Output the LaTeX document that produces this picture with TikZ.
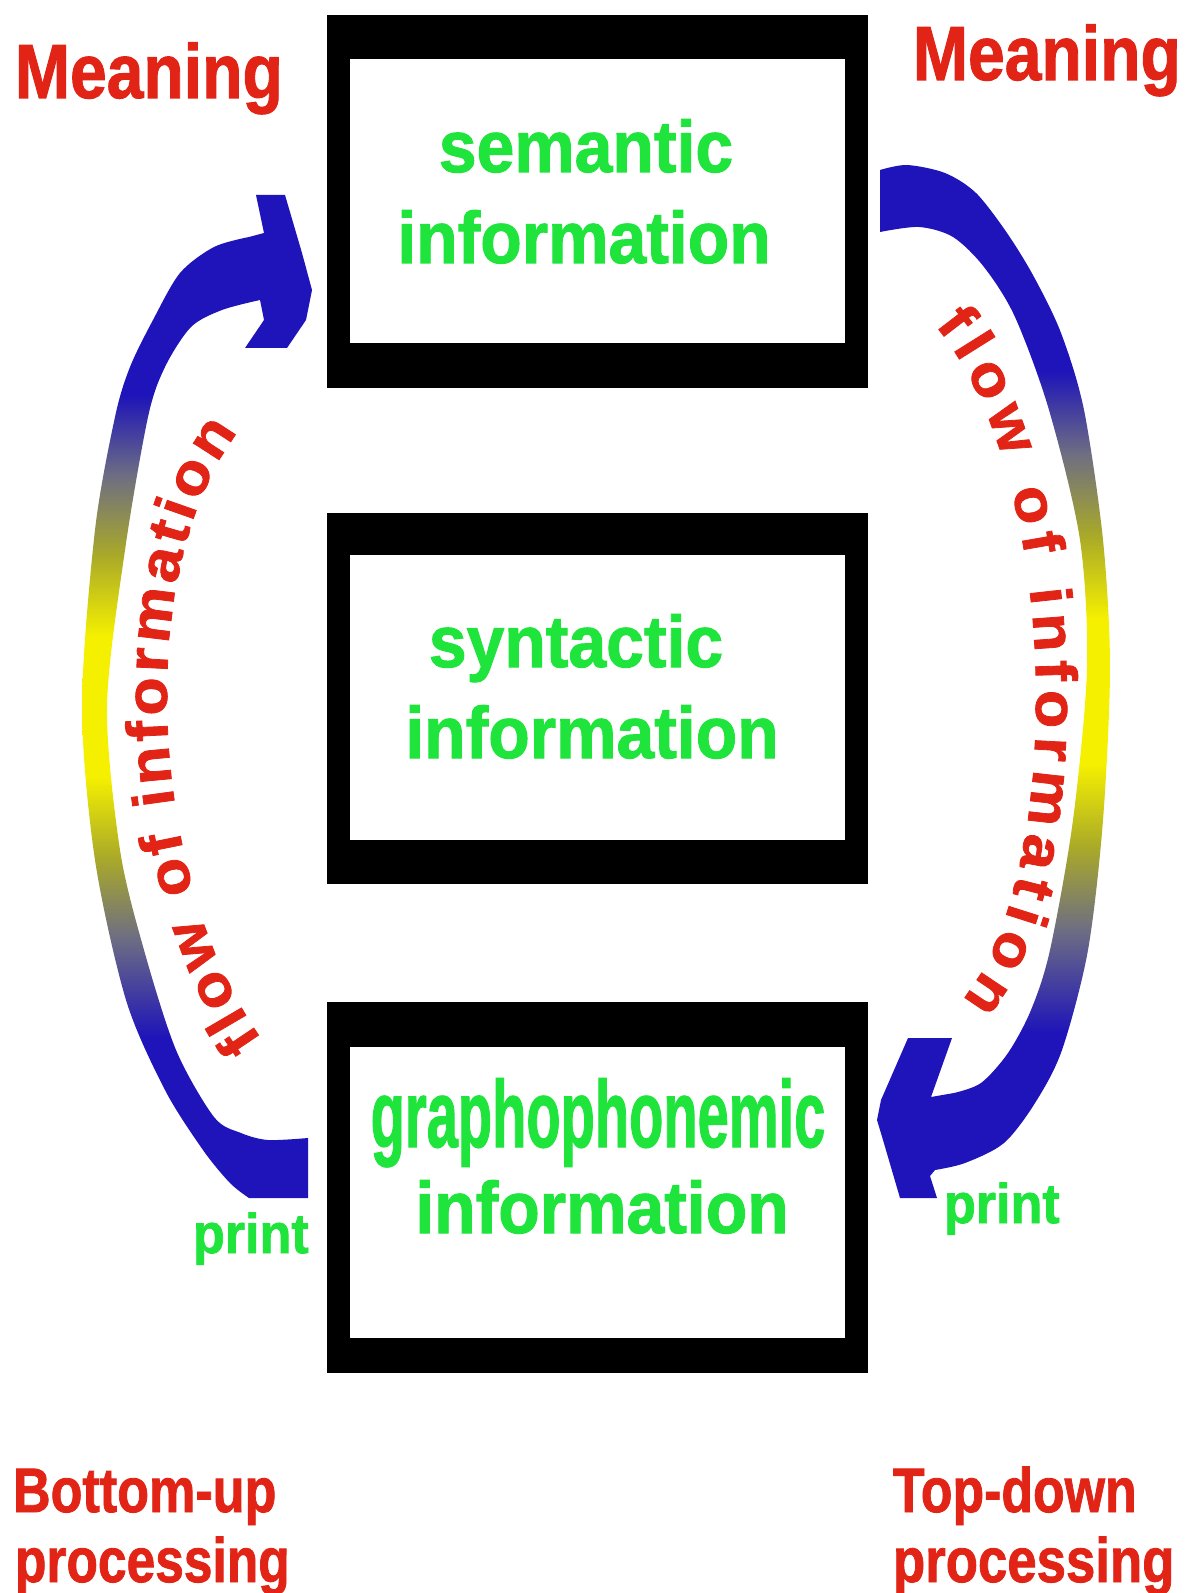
\documentclass[tikz,border=0pt]{standalone}
\usepackage{fontspec}
\setmainfont{Liberation Sans}[BoldFeatures={FakeBold=1.4}]
\newfontfamily\arcfont{Liberation Sans}[FakeStretch=1.08, BoldFeatures={FakeBold=1.4}]
\usepackage{graphicx}
\usetikzlibrary{decorations.text}
\definecolor{mred}{RGB}{226,36,22}
\definecolor{mgreen}{RGB}{30,228,60}
\definecolor{ablue}{RGB}{30,20,185}
\definecolor{agray}{RGB}{110,110,130}
\definecolor{aolive}{RGB}{170,170,40}
\definecolor{ayellow}{RGB}{245,240,0}
\pgfdeclareverticalshading{arcshade}{100bp}{color(0bp)=(ablue); color(33bp)=(ablue); color(38bp)=(agray); color(42bp)=(aolive); color(46bp)=(ayellow); color(53bp)=(ayellow); color(57bp)=(aolive); color(61bp)=(agray); color(65bp)=(ablue); color(100bp)=(ablue)}
\newcommand\mytxt[3]{{\fontsize{#1}{#1}\selectfont\scalebox{#2}[1]{#3}}}
\begin{document}
\begin{tikzpicture}[x=0.5pt,y=-0.5pt,
  glbl/.style={inner sep=0pt, outer sep=0pt, anchor=base, text=mgreen, font=\bfseries},
  rlbl/.style={inner sep=0pt, outer sep=0pt, anchor=base west, text=mred, font=\bfseries},
  frameout/.style={fill=black},
  framein/.style={fill=white}]
\useasboundingbox[fill=white] (0,0) rectangle (1202,1593);

% boxes
\fill[frameout] (327,15) rectangle (868,388);
\fill[framein] (350,59) rectangle (845,343);
\fill[frameout] (327,513) rectangle (868,884);
\fill[framein] (350,555) rectangle (845,840);
\fill[frameout] (327,1002) rectangle (868,1373);
\fill[framein] (350,1047) rectangle (845,1338);

% box texts
\node[glbl] (sem1) at (586,172) {\mytxt{36.5pt}{0.93}{semantic}};
\node[glbl] (sem2) at (584,263) {\mytxt{36.5pt}{0.93}{information}};
\node[glbl] (syn1) at (576,667) {\mytxt{36.5pt}{0.93}{syntactic}};
\node[glbl] (syn2) at (592,758) {\mytxt{36.5pt}{0.93}{information}};
\node[glbl] (gra1) at (598,1147) {\mytxt{47.5pt}{0.59}{graphophonemic}};
\node[glbl] (gra2) at (602,1233) {\mytxt{36.5pt}{0.93}{information}};

% corner labels
\node[rlbl] (m1) at (15,98) {\mytxt{38.4pt}{0.86}{Meaning}};
\node[rlbl] (m2) at (913,80) {\mytxt{38.4pt}{0.86}{Meaning}};
\node[rlbl] (bu1) at (13,1512) {\mytxt{31.4pt}{0.83}{Bottom-up}};
\node[rlbl] (bu2) at (15,1582) {\mytxt{31.4pt}{0.82}{processing}};
\node[rlbl] (td1) at (893,1512) {\mytxt{31.4pt}{0.825}{Top-down}};
\node[rlbl] (td2) at (893,1582) {\mytxt{31.4pt}{0.84}{processing}};

% print labels
\node[glbl, anchor=base west] (p1) at (193,1253) {\mytxt{28pt}{0.93}{print}};
\node[glbl, anchor=base west] (p2) at (944,1223) {\mytxt{28pt}{0.93}{print}};

% left arc (bottom-up)
\shade[shading=arcshade] plot[smooth] coordinates {(308,1138) (268,1140) (241,1133) (214,1117) (176,1050) (144,950) (120,850) (107,706) (125,550) (148,417) (165,367) (191,327) (222,310) (260,300)}
  -- (264,320) -- (245,348) -- (287,348) -- (306,320) -- (312,290) -- (302,253) -- (285,195) -- (256,195) -- (264,233)
  -- plot[smooth] coordinates {(249,237) (214,247) (180,273) (153,320) (130,367) (115,417) (95,530) (82,706) (95,860) (126,1000) (165,1090) (203,1150) (230,1183) (249,1198)}
  -- (308,1198) -- cycle;

% right arc (top-down)
\shade[shading=arcshade] plot[smooth] coordinates {(880,170) (907,165) (945,173) (976,193) (1007,233) (1034,277) (1061,333) (1084,410) (1103,540) (1110,668) (1103,820) (1088,950) (1062,1050) (1035,1103) (1004,1143) (965,1163) (935,1170)}
  -- (930,1176) -- (937,1198) -- (900,1198) -- (883,1140) -- (877,1120) -- (881,1100) -- (908,1038) -- (952,1038) -- (931,1097)
  -- plot[smooth] coordinates {(954,1093) (981,1083) (1008,1053) (1031,1010) (1050,950) (1073,820) (1087,668) (1080,540) (1049,410) (1015,317) (984,267) (953,237) (919,227) (880,232)}
  -- cycle;

% curved texts
\coordinate (lt0) at (262,1040);
\coordinate (lt1) at (148,880);
\coordinate (lt2) at (132,570);
\coordinate (lt3) at (238,432);
\path[decorate, decoration={text along path, text align=fit to path,
  text={|\arcfont\bfseries\fontsize{29pt}{29pt}\selectfont\color{mred}|flow of information}}]
  (lt0) .. controls (lt1) and (lt2) .. (lt3);

\coordinate (rt0) at (935,325);
\coordinate (rt1) at (1065,480);
\coordinate (rt2) at (1065,880);
\coordinate (rt3) at (962,1000);
\path[decorate, decoration={text along path, text align=fit to path,
  text={|\arcfont\bfseries\fontsize{29pt}{29pt}\selectfont\color{mred}|flow of information}}]
  (rt0) .. controls (rt1) and (rt2) .. (rt3);
\end{tikzpicture}
\end{document}
